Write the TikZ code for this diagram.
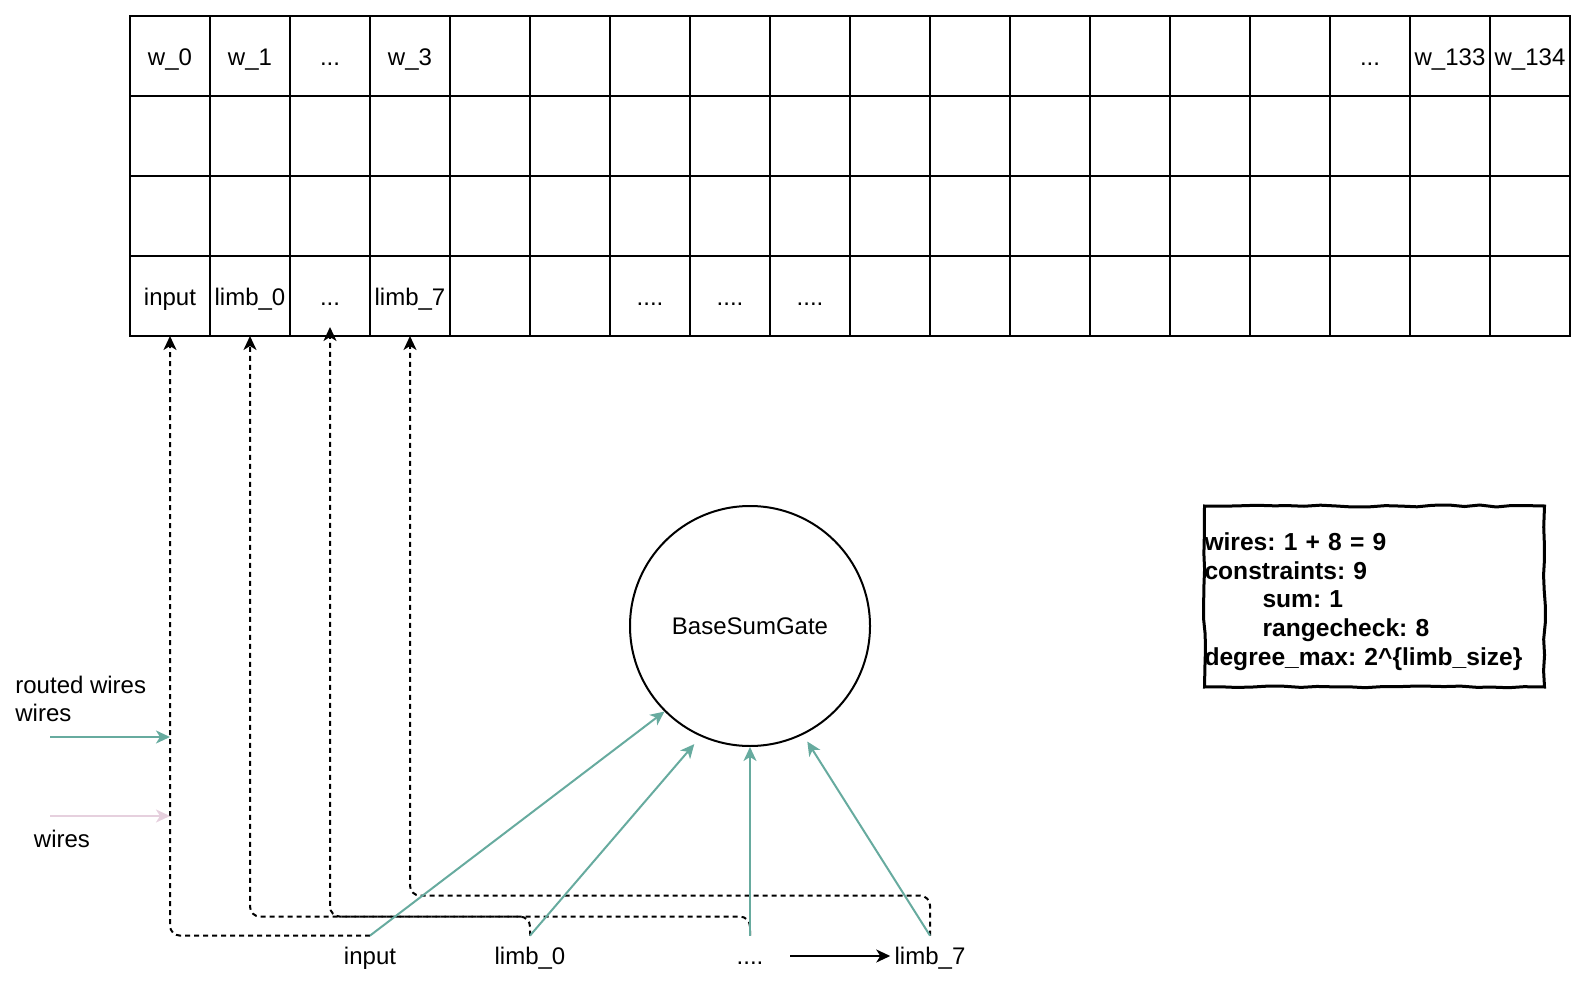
\documentclass[tikz,border=0pt]{standalone}
\usepackage{fontspec}
\setmainfont{Liberation Sans}
\usetikzlibrary{arrows.meta,decorations.pathmorphing,calc}
\definecolor{tealg}{HTML}{67AB9F}
\definecolor{pinkw}{HTML}{E6D0DE}
\newcommand\celltxt[2]{%
  \ifnum\numexpr#2\relax=0
    \ifcase\numexpr#1\relax w\_0\or w\_1\or ...\or w\_3\or\or\or\or\or\or\or\or\or\or\or\or ...\or w\_133\or w\_134\fi
  \else\ifnum\numexpr#2\relax=3
    \ifcase\numexpr#1\relax input\or limb\_0\or ...\or limb\_7\or\or\or ....\or ....\or ....\fi
  \fi\fi}
\begin{document}
\frenchspacing
\pgfmathsetseed{7}
\begin{tikzpicture}[x=0.5pt,y=-0.5pt,
  font=\fontsize{12pt}{14pt}\selectfont,
  cell/.style={draw, line width=1pt, minimum width=40pt, minimum height=40pt,
    inner sep=0pt, outer sep=0pt, text height=11.6pt, text depth=2.5pt},
  lbl/.style={inner xsep=2pt, inner ysep=0pt, minimum height=20pt,
    text height=10.6pt, text depth=2.5pt},
  tip/.style={-{Stealth[length=7pt,width=6.5pt,inset=2pt]}},
  dline/.style={tip, line width=1pt, dash pattern=on 2.5pt off 2pt, rounded corners=5pt},
  garrow/.style={tip, line width=1pt, draw=tealg},
  parrow/.style={tip, line width=1pt, draw=pinkw},
  barrow/.style={tip, line width=1pt},
  notebox/.style={draw, line width=1.5pt, decorate,
    decoration={random steps, segment length=8pt, amplitude=0.5pt},
    text width=170pt, minimum height=90.5pt, inner sep=0pt, align=left,
    font=\fontsize{12.3pt}{14.3pt}\selectfont\bfseries}
]
\useasboundingbox (0,0) rectangle (1589,994);

% grid
\foreach \c in {0,...,17}{
  \foreach \r in {0,...,3}{
    \node[cell] (c\c-\r) at ({170+80*\c},{56+80*\r}) {\celltxt{\c}{\r}};
  }
}

% gate
\node[circle, draw, line width=1pt, minimum size=120pt, inner sep=0pt] (gate) at (750,626) {BaseSumGate};

% bottom labels
\node[lbl] (inp) at (370,956) {input};
\node[lbl] (l0) at (530,956) {limb\_0};
\node[lbl] (ld) at (750,956) {....};
\node[lbl] (l7) at (930,956) {limb\_7};

% dashed routes
\draw[dline] (inp.north) -| (c0-3.south);
\draw[dline] (l0.north) -- ++(0,-19) -| (c1-3.south);
\draw[dline, shorten >=-4.5pt] (ld.north) -- ++(0,-19) -| (c2-3.south);
\draw[dline] (l7.north) -- ++(0,-40) -| (c3-3.south);

% green arrows to the gate
\draw[garrow] (inp.north) -- (gate.225);
\draw[garrow, shorten >=5pt] (l0.north) -- (gate.246);
\draw[garrow] (ld.north) -- (gate.south);
\draw[garrow, shorten >=4pt] (l7.north) -- (gate.296);

% black arrow to limb_7
\coordinate (bs) at (790,956);
\draw[barrow] (bs) -- (l7.west);

% legend
\node[anchor=west, align=left, inner sep=0pt] (leg) at (15,699) {routed wires\\wires};
\coordinate (ta) at (50,737);
\coordinate (tb) at (170,737);
\draw[garrow] (ta) -- (tb);
\coordinate (pa) at (50,816);
\coordinate (pb) at (170,816);
\draw[parrow] (pa) -- (pb);
\node[inner sep=0pt] (wl) at (62,839) {wires};

% note box
\node[notebox] (note) at (1374.5,596.5) {\rule{0pt}{14pt}wires: 1 + 8 = 9\\
constraints: 9\\
\hspace*{29pt}sum: 1\\
\hspace*{29pt}rangecheck: 8\\
degree\_max: 2\textasciicircum\{limb\_size\}};
\end{tikzpicture}
\end{document}
